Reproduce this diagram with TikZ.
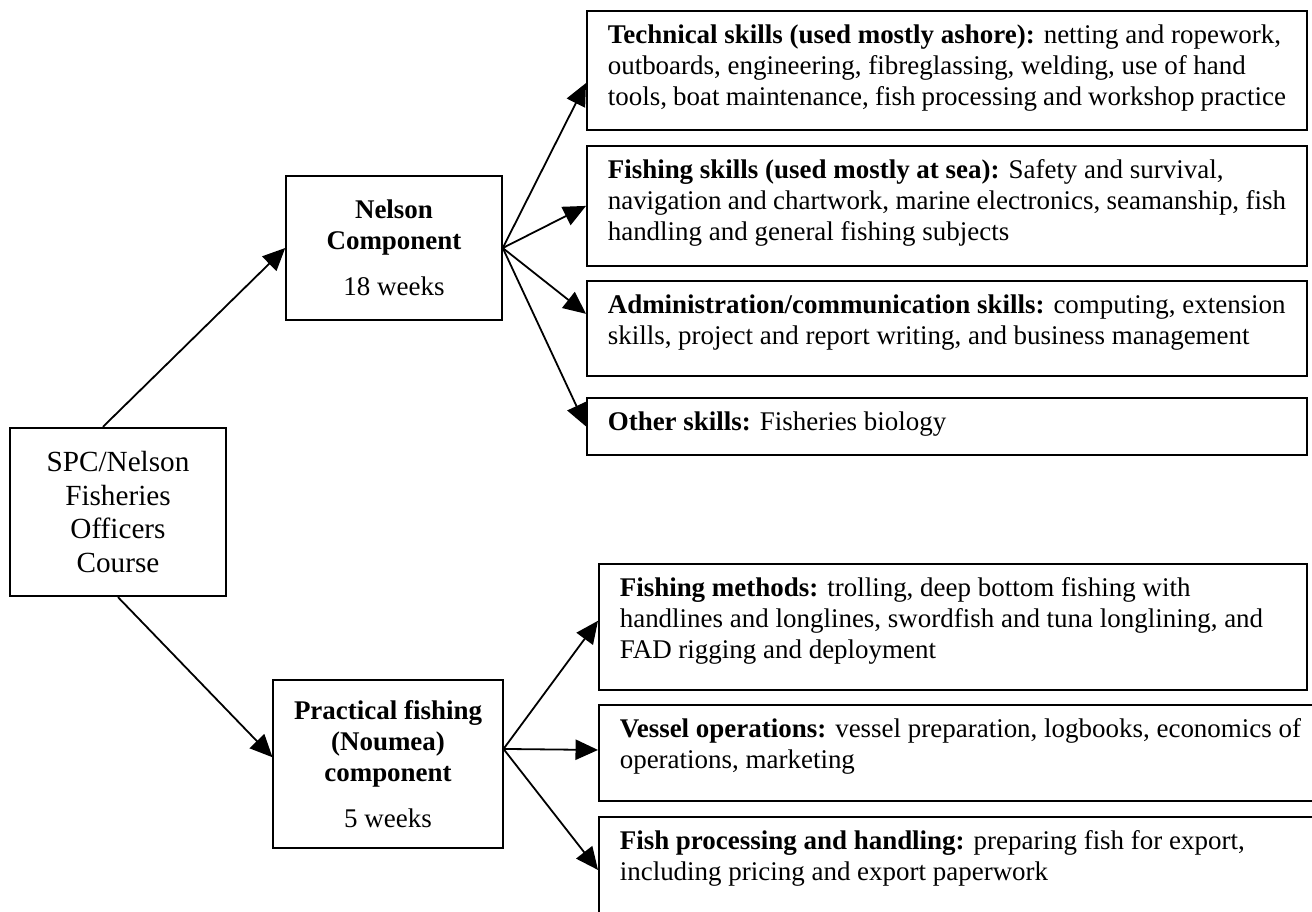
\documentclass[tikz,border=0pt]{standalone}
\usepackage{fontspec}
\setmainfont{Liberation Serif}
\usepackage{tikz}
\usetikzlibrary{arrows.meta}
\newcommand{\skillbox}[3][301.8pt]{% #1: optional width, #2: height, #3: text
	\parbox[c][#2][t]{#1}{\raggedright #3}%
}
\tikzset{
	box/.style={draw,thick,align=center,font=\fontsize{12}{13.8}\selectfont},
	skill/.style={draw,thick,anchor=north west,inner xsep=9.3pt,inner ysep=6pt,font=\fontsize{12}{13.8}\selectfont},
	arr/.style={thick,-{Triangle[length=10pt,width=9pt]}}
}

\begin{document}
\begin{tikzpicture}[x=0.445pt,y=-0.445pt]
					% Fix the page
					\useasboundingbox (0,0) rectangle (1312,911);
					
					% Course and its two components
					\node[box,minimum width=96pt,minimum height=75pt,font=\fontsize{13}{15}\selectfont] (course) at (118,512) {SPC/Nelson\\Fisheries\\Officers\\Course};
					\node[box,minimum width=96pt,minimum height=64pt] (nelson) at (394,248) {\textbf{Nelson}\\\textbf{Component}\\[6.5pt]18 weeks};
					\node[box,minimum width=102pt,minimum height=75pt] (prac) at (388,764) {\textbf{Practical fishing}\\\textbf{(Noumea)}\\\textbf{component}\\[6.5pt]5 weeks};
					
					% Nelson skills
					\node[skill] (tech) at (586,10) {\skillbox{41pt}{\textbf{Technical skills (used mostly ashore):} netting and ropework,\\outboards, engineering, fibreglassing, welding, use of hand\\tools, boat maintenance, fish processing and workshop practice}};
					\node[skill] (fish) at (586,145) {\skillbox{41.4pt}{\textbf{Fishing skills (used mostly at sea):} Safety and survival,\\navigation and chartwork, marine electronics, seamanship, fish\\handling and general fishing subjects}};
					\node[skill] (admin) at (586,280) {\skillbox{30.3pt}{\textbf{Administration/communication skills:} computing, extension\\skills, project and report writing, and business management}};
					\node[skill] (other) at (586,397) {\skillbox{13.4pt}{\textbf{Other skills:} Fisheries biology}};
					
					% Noumea skills
					\node[skill] (meth) at (598,563) {\skillbox[296.4pt]{44pt}{\textbf{Fishing methods:} trolling, deep bottom fishing with\\handlines and longlines, swordfish and tuna longlining, and\\FAD rigging and deployment}};
					\node[skill] (vessel) at (598,704) {\skillbox[311pt]{30.7pt}{\textbf{Vessel operations:} vessel preparation, logbooks, economics of\\operations, marketing}};
					\node[skill] (proc) at (598,816) {\skillbox[311pt]{44pt}{\textbf{Fish processing and handling:} preparing fish for export,\\including pricing and export paperwork}};
					
					% Arrows
					\draw[arr] ([xshift=-6.7pt]course.north) -- (nelson.west);
					\draw[arr] (course.south) -- ([yshift=3pt]prac.west);
					\draw[arr] (nelson.east) -- ([yshift=-5.6pt]tech.west);
					\draw[arr] (nelson.east) -- (fish.west);
					\draw[arr] (nelson.east) -- ([yshift=6.5pt]admin.west);
					\draw[arr] (nelson.east) -- (other.west);
					\draw[arr] ([yshift=6.7pt]prac.east) -- ([yshift=2.7pt]meth.west);
					\draw[arr] ([yshift=6.7pt]prac.east) -- ([yshift=1.3pt]vessel.west);
					\draw[arr] ([yshift=6.7pt]prac.east) -- ([yshift=-24pt]proc.north west);
				\end{tikzpicture}
\end{document}
